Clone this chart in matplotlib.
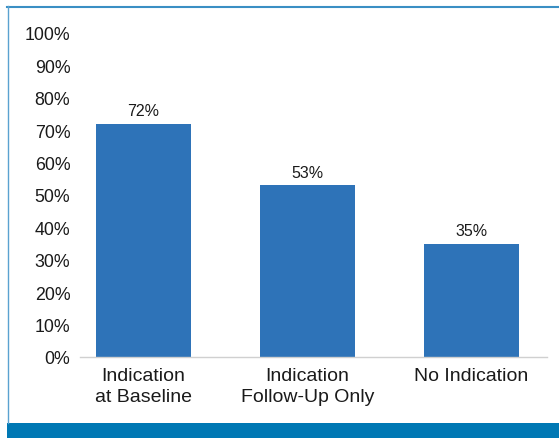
import matplotlib
matplotlib.use("Agg")
import matplotlib.pyplot as plt
from matplotlib.lines import Line2D
from matplotlib.patches import Rectangle

categories = ["Indication\nat Baseline", "Indication\nFollow-Up Only", "No Indication"]
values = [72, 53, 35]
yticks = [0, 10, 20, 30, 40, 50, 60, 70, 80, 90, 100]

plt.rcParams["font.family"] = ["Liberation Sans", "DejaVu Sans"]

W, H = 559, 439
fig = plt.figure(figsize=(W / 100, H / 100), dpi=100)
fig.patch.set_facecolor("white")

ax = fig.add_axes([80 / W, (H - 358) / H, (547 - 80) / W, (358 - 34) / H])
x = list(range(len(categories)))
bars = ax.bar(x, values, width=0.58, color="#2e73b8", zorder=2)

for xi, v in zip(x, values):
    ax.annotate(f"{v}%", (xi, v), xytext=(0, 6.0), textcoords="offset points",
                ha="center", va="baseline", fontsize=11.5, color="#1a1a1a")

ax.set_xlim(-0.387, 2.46)
ax.set_ylim(0, 100)
ax.set_yticks(yticks)
ax.set_yticklabels([f"{t}%" for t in yticks], fontsize=12.8, color="#1a1a1a")
ax.set_xticks(x)
ax.set_xticklabels(categories, fontsize=14, color="#1a1a1a", linespacing=1.3)
ax.tick_params(axis="y", length=0, pad=7)
ax.tick_params(axis="x", length=0, pad=7.5)

for side in ["top", "right", "left"]:
    ax.spines[side].set_visible(False)
ax.spines["bottom"].set_color("#d0d0d0")
ax.spines["bottom"].set_linewidth(1.0)

# Frame: thin top and left rules, solid band along the bottom
fig.add_artist(Line2D([7 / W, 1], [1 - 7.5 / H, 1 - 7.5 / H], color="#3a8fc4", lw=1.5))
fig.add_artist(Line2D([7.5 / W, 7.5 / W], [(H - 424) / H, 1 - 7 / H], color="#5aa2d0", lw=1.0))
fig.add_artist(Rectangle((7 / W, 0), 1 - 7 / W, (H - 424) / H, transform=fig.transFigure,
                         facecolor="#0078b4", edgecolor="none"))

fig.savefig("out.png", dpi=100)
